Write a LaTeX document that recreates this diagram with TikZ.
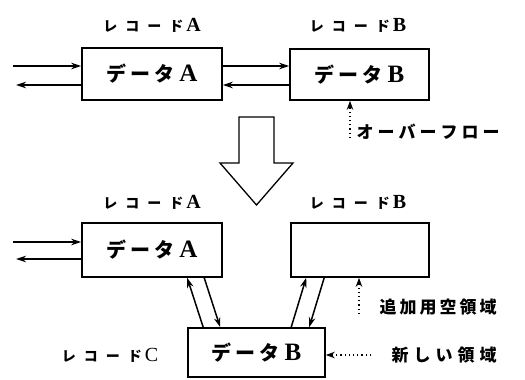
\documentclass[tikz,border=0pt]{standalone}
\usepackage{fontspec}
\usetikzlibrary{arrows.meta}
\newfontfamily\jp{Noto Sans CJK JP}
\newfontfamily\lat{Liberation Serif}
\newcommand\jg[1]{\hspace{#1}}
\newcommand\reclabel[1]{{\jp\bfseries\fontsize{14pt}{16pt}\selectfont レ\jg{8pt}コ\jg{8pt}ー\jg{8pt}ド}\jg{3pt}{\lat #1}}
\newcommand\datalabel[1]{{\jp\bfseries デ\jg{4pt}ー\jg{4pt}タ}\jg{5pt}{\lat\fontsize{25pt}{27pt}\selectfont\bfseries #1}}
\begin{document}
\begin{tikzpicture}[x=1pt,y=-1pt,
  box/.style={draw,line width=1.6pt,inner sep=0pt,minimum width=140pt,minimum height=52pt},
  arr/.style={line width=1.5pt,-{Stealth[length=10pt,width=6.5pt]}},
  dotarr/.style={line width=1.4pt,dash pattern=on 1.2pt off 3pt,-{Stealth[length=9pt,width=6.5pt]}},
  datatxt/.style={font=\fontsize{20pt}{22pt}\selectfont},
  rec/.style={font=\fontsize{20pt}{22pt}\selectfont},
  note/.style={font=\fontsize{17pt}{19pt}\selectfont\jp\bfseries,anchor=west}]
\useasboundingbox (0,0) rectangle (525,380);

% upper state
\node[box] (A) at (152,74) {};
\node[box,minimum width=139pt,minimum height=51pt] (B) at (359.5,74.5) {};
\node[datatxt] at (A) {\datalabel{A}};
\node[datatxt] at (B) {\datalabel{B}};
\node[rec] (lA) at (152,25) {\reclabel{\bfseries A}};
\node[rec] (lB) at (358,25) {\reclabel{\bfseries B}};

\coordinate (inA) at (13,66);
\coordinate (outA) at (16,85);
\draw[arr] (inA) -- (inA -| A.west);
\draw[arr] (outA -| A.west) -- (outA);
\draw[arr] ([yshift=8pt]A.east) -- ([yshift=8pt]A.east -| B.west);
\draw[arr] ([yshift=-11pt]A.east -| B.west) -- ([yshift=-11pt]A.east);

\coordinate (ovf) at (350,138);
\draw[dotarr] (ovf) -- (ovf |- B.south);
\node[note] (ovft) at (353,132) {オ\jg{4pt}ー\jg{4pt}バ\jg{4pt}ー\jg{4pt}フ\jg{4pt}ロ\jg{4pt}ー};

% transition arrow
\draw[line width=1.3pt,line join=miter] (239,117) -- (274,117) -- (274,163) -- (293,163)
  -- (256.5,205) -- (220,163) -- (239,163) -- cycle;

% lower state
\node[box,minimum height=54pt] (A2) at (152,250) {};
\node[box,minimum width=138pt,minimum height=54pt] (B2) at (360,250) {};
\node[box,minimum width=137pt,minimum height=49pt] (C) at (256.5,352.5) {};
\node[datatxt] at (A2) {\datalabel{A}};
\node[datatxt] at (C) {\datalabel{B}};
\node[rec] (lA2) at (152,202) {\reclabel{\bfseries A}};
\node[rec] (lB2) at (358,202) {\reclabel{\bfseries B}};
\node[rec] (lC) at (110,355) {\reclabel{C}};

\coordinate (inA2) at (13,242);
\coordinate (outA2) at (16,259);
\draw[arr] (inA2) -- (inA2 -| A2.west);
\draw[arr] (outA2 -| A2.west) -- (outA2);

\draw[arr] ([xshift=16pt]C.north west) -- ([xshift=106pt]A2.south west);
\draw[arr] ([xshift=123pt]A2.south west) -- ([xshift=33pt]C.north west);
\draw[arr] ([xshift=104pt]C.north west) -- ([xshift=16pt]B2.south west);
\draw[arr] ([xshift=34pt]B2.south west) -- ([xshift=122pt]C.north west);

\coordinate (free) at (359,314);
\draw[dotarr] (free) -- (free |- B2.south);
\node[note] (freet) at (376,307) {追\jg{3pt}加\jg{3pt}用\jg{3pt}空\jg{3pt}領\jg{3pt}域};

\coordinate (new) at (371,355);
\draw[dotarr] (new) -- (new -| C.east);
\node[note] (newt) at (388,355) {新\jg{5pt}し\jg{5pt}い\jg{5pt}領\jg{5pt}域};
\end{tikzpicture}
\end{document}
